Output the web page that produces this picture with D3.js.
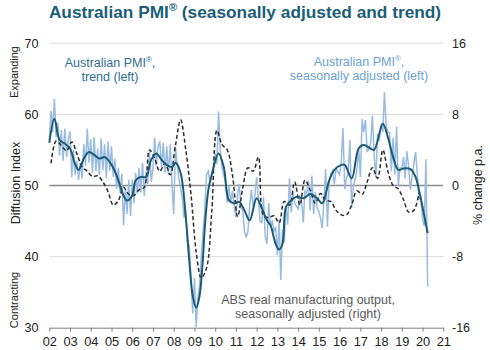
<!DOCTYPE html>
<html>
<head>
<meta charset="utf-8">
<script src="https://cdn.jsdelivr.net/npm/d3@7"></script>
<style>
  body { margin: 0; background: #fff; }
  svg { font-family: "Liberation Sans", Arial, sans-serif; }
</style>
</head>
<body>
<div id="chart"></div>
<script>
// Australian PMI, seasonally adjusted (monthly, from Jan 2002)
const saStart = "2002-01";
const saValues = [
  56.5, 60.5, 57.5, 62.2, 56.8, 58.8, 54.2, 57.8, 53.5, 58.0, 54.0, 56.5,
  57.6, 51.2, 55.0, 51.5, 53.5, 50.8, 53.2, 51.0, 55.8, 52.8, 58.0, 53.2,
  56.5, 51.8, 56.8, 52.0, 55.2, 51.5, 56.6, 52.2, 55.8, 51.0, 56.2, 52.0,
  55.5, 51.2, 53.8, 49.5, 52.5, 49.0, 51.6, 44.4, 49.5, 46.0, 50.8, 45.7,
  50.8, 47.5, 51.8, 48.8, 52.5, 49.0, 53.2, 48.5, 52.0, 50.2, 54.8, 50.5,
  52.5, 56.7, 52.8, 55.5, 56.2, 52.6, 56.0, 51.8, 55.5, 51.5, 55.8, 50.5,
  46.0, 55.5, 53.0, 51.0, 49.8, 48.2, 45.5, 46.5, 42.0, 41.5, 37.0, 32.0,
  37.0, 30.1, 34.3, 35.9, 40.0, 43.5, 46.5, 51.5, 52.0, 50.5, 51.5, 52.8,
  54.5, 53.0, 60.4, 55.0, 52.5, 51.5, 50.5, 47.5, 50.0, 47.5, 49.2, 47.0,
  45.5, 48.8, 50.2, 46.8, 46.5, 43.5, 42.8, 43.5, 47.2, 49.4, 47.0, 48.5,
  51.2, 48.2, 45.0, 44.8, 48.3, 42.8, 41.8, 47.5, 44.2, 45.1, 43.5, 44.2,
  40.2, 45.2, 36.7, 43.8, 42.0, 47.1, 44.5, 51.0, 46.2, 49.0, 47.5, 47.1,
  46.7, 48.6, 47.9, 44.8, 49.2, 48.9, 50.7, 46.5, 51.4, 46.0, 49.1, 46.9,
  46.3, 45.4, 44.0, 48.0, 52.3, 44.2, 50.4, 51.7, 52.1, 50.2, 52.5, 51.9,
  51.5, 53.5, 58.1, 49.5, 51.0, 51.8, 56.4, 46.9, 49.8, 50.9, 52.2, 55.4,
  51.2, 59.3, 57.5, 59.2, 54.8, 55.0, 56.0, 59.8, 54.2, 51.1, 57.3, 56.2,
  58.7, 57.5, 63.1, 58.3, 57.5, 57.4, 52.0, 56.7, 51.5, 58.3, 50.0, 52.5,
  52.5, 54.0, 51.0, 54.8, 52.7, 49.4, 51.3, 53.1, 54.7, 51.6, 48.1, 48.3,
  45.4, 44.3, 53.7, 35.8
];

// Australian PMI, trend (read at turning points)
const trendMonths = [
  "2002-01", "2002-04", "2002-07", "2002-10", "2003-01", "2003-04", "2003-06", "2003-09", "2003-12",
  "2004-03", "2004-06", "2004-09", "2004-12", "2005-03", "2005-05", "2005-08", "2005-10",
  "2006-01", "2006-03", "2006-06", "2006-09", "2006-12", "2007-03", "2007-06", "2007-09", "2007-12",
  "2008-02", "2008-05", "2008-08", "2008-10", "2008-12", "2009-02", "2009-04", "2009-06",
  "2009-07", "2009-09", "2009-11", "2010-03", "2010-06", "2010-09", "2010-12", "2011-03",
  "2011-06", "2011-09", "2012-01", "2012-04", "2012-07", "2012-09", "2012-12", "2013-02", "2013-04",
  "2013-06", "2013-09", "2013-12", "2014-04", "2014-08", "2014-12", "2015-03", "2015-07",
  "2015-10", "2016-02", "2016-04", "2016-08", "2016-12", "2017-03", "2017-07", "2017-09",
  "2018-02", "2018-05", "2018-08", "2018-11", "2019-02", "2019-06", "2019-09", "2019-11", "2020-04"
];
const trendValues = [
  56.0, 59.4, 56.4, 55.9, 55.2, 53.0, 52.2, 53.8, 54.7,
  54.3, 53.8, 54.0, 53.3, 52.0, 50.7, 48.6, 47.9,
  48.6, 50.7, 51.2, 51.2, 53.6, 54.5, 53.6, 52.9, 52.6,
  53.2, 51.8, 45.5, 39.5, 34.5, 32.8, 34.5, 40.0,
  44.0, 49.3, 51.5, 54.5, 52.6, 47.9, 47.5, 47.7,
  46.5, 45.1, 48.2, 46.8, 45.1, 44.4, 41.8, 41.0, 41.8,
  47.0, 47.9, 48.4, 48.2, 48.8, 48.2, 47.5, 50.7,
  52.2, 52.9, 52.9, 51.0, 55.2, 55.7, 55.2, 55.0,
  58.7, 56.8, 54.0, 52.2, 52.4, 52.3, 51.2, 49.3, 43.3
];

// ABS real manufacturing output, % change p.a. (quarterly, mid-quarter from Q1 2002)
const absStart = "2002-02";
const absValues = [
  2.5, 5.0, 4.5, 3.9, 4.9, 3.6, 2.1, 1.6, 1.0, 1.1,
  0.4, -0.7, -2.2, -1.7, -0.2, -1.0, -1.1, -0.5, -0.2, 4.0,
  3.0, 1.6, 2.5, 1.2, 4.5, 7.4, 4.0, -1.0, -7.5, -10.4,
  -9.3, -3.0, 6.2, 4.6, 4.0, 1.2, -3.5, -0.3, 2.0, 1.6,
  3.2, -3.4, -3.6, -3.4, -4.2, -1.8, -2.2, 0.4, -2.2, 0.6,
  -0.5, -2.0, -0.9, -1.7, -1.8, -2.8, -3.3, -3.3, -2.2, -0.6,
  -1.0, 0.4, 2.0, 0.8, 4.0, 1.6, 0.0, -0.4, -1.6, -3.0,
  -2.8, -0.8
];

const leftTicks = [30, 40, 50, 60, 70];
const rightTicks = [-16, -8, 0, 8, 16];

const width = 490, height = 350;
const parseMonth = d3.timeParse("%Y-%m");

const x = d3.scaleTime()
  .domain([new Date(2002, 0, 1), new Date(2021, 0, 1)])
  .range([49.3, 443.3]);
const yL = d3.scaleLinear().domain([30, 70]).range([327.7, 43.3]);
const yR = d3.scaleLinear().domain([-16, 16]).range([327.7, 43.3]);

const sa = saValues.map((v, i) => ({ date: d3.timeMonth.offset(parseMonth(saStart), i), value: v }));
const trend = trendMonths.map((m, i) => ({ date: parseMonth(m), value: trendValues[i] }));
const abs = absValues.map((v, i) => ({ date: d3.timeMonth.offset(parseMonth(absStart), i * 3), value: v }));

const svg = d3.select("#chart")
  .append("svg")
  .attr("width", width)
  .attr("height", height);

// title
const title = svg.append("text")
  .attr("x", 245)
  .attr("y", 18)
  .attr("text-anchor", "middle")
  .attr("fill", "#1b5e77")
  .attr("font-size", "17.3px")
  .attr("font-weight", "bold");
title.append("tspan").text("Australian PMI");
title.append("tspan").attr("font-size", "11px").attr("dy", "-7").text("®");
title.append("tspan").attr("dy", "7").text(" (seasonally adjusted and trend)");

// grid
svg.append("g")
  .selectAll("line")
  .data(leftTicks.filter(d => d !== 30))
  .join("line")
  .attr("x1", x.range()[0])
  .attr("x2", x.range()[1])
  .attr("y1", d => yL(d))
  .attr("y2", d => yL(d))
  .attr("stroke", d => d === 50 ? "#8c8c8c" : "#dcdcdc")
  .attr("stroke-width", d => d === 50 ? 1.3 : 1);

// x axis
const xAxis = svg.append("g")
  .attr("transform", `translate(0,${yL(30)})`)
  .call(d3.axisBottom(x)
    .ticks(d3.timeYear.every(1))
    .tickFormat(d3.timeFormat("%y"))
    .tickSize(4)
    .tickPadding(5)
    .tickSizeOuter(0));
xAxis.select(".domain").attr("stroke", "#7f7f7f");
xAxis.selectAll(".tick line").attr("stroke", "#7f7f7f");
xAxis.selectAll("text").attr("font-size", "12.8px").attr("fill", "#222").attr("font-family", null);

// left axis labels
svg.append("g")
  .selectAll("text")
  .data(leftTicks)
  .join("text")
  .attr("x", 38.5)
  .attr("y", d => yL(d))
  .attr("dy", "0.35em")
  .attr("text-anchor", "end")
  .attr("font-size", "12.5px")
  .attr("fill", "#222")
  .text(d => d);

// right axis labels
svg.append("g")
  .selectAll("text")
  .data(rightTicks)
  .join("text")
  .attr("x", 452)
  .attr("y", d => yR(d))
  .attr("dy", "0.35em")
  .attr("font-size", "12.5px")
  .attr("fill", "#222")
  .text(d => d);

// axis titles
function vtext(tx, ty, txt, size) {
  svg.append("text")
    .attr("transform", `translate(${tx},${ty}) rotate(-90)`)
    .attr("text-anchor", "middle")
    .attr("font-size", size)
    .attr("fill", "#222")
    .text(txt);
}
vtext(20, 183, "Diffusion Index", "12.5px");
vtext(18, 72, "Expanding", "11px");
vtext(18, 300, "Contracting", "11px");
vtext(482, 185, "% change p.a.", "12.5px");

// series
const lineL = d3.line().x(d => x(d.date)).y(d => yL(d.value));

svg.append("path")
  .datum(sa)
  .attr("fill", "none")
  .attr("stroke", "#99bbe2")
  .attr("stroke-width", 1.5)
  .attr("d", lineL);

svg.append("path")
  .datum(abs)
  .attr("fill", "none")
  .attr("stroke", "#2b2b2b")
  .attr("stroke-width", 1.5)
  .attr("stroke-dasharray", "4,2.5")
  .attr("d", d3.line().x(d => x(d.date)).y(d => yR(d.value)).curve(d3.curveCatmullRom.alpha(0.5)));

svg.append("path")
  .datum(trend)
  .attr("fill", "none")
  .attr("stroke", "#1d5b73")
  .attr("stroke-width", 2)
  .attr("d", lineL.curve(d3.curveCatmullRom.alpha(0.5)));

// annotations
function note(cx, cy, lines, color) {
  const t = svg.append("text")
    .attr("text-anchor", "middle")
    .attr("font-size", "12.5px")
    .attr("fill", color);
  lines.forEach((l, i) => {
    const ts = t.append("tspan").attr("x", cx).attr("y", cy + i * 14);
    if (l.includes("®")) {
      const parts = l.split("®");
      ts.append("tspan").text(parts[0]);
      ts.append("tspan").attr("font-size", "8px").attr("dy", "-5").text("®");
      ts.append("tspan").attr("dy", "5").text(parts[1]);
    } else {
      ts.text(l);
    }
  });
}
note(110, 67, ["Australian PMI®,", "trend (left)"], "#2e6f91");
note(359, 66, ["Australian PMI®,", "seasonally adjusted (left)"], "#6b9fd6");
note(308, 304, ["ABS real manufacturing output,", "seasonally adjusted (right)"], "#595959");
</script>
</body>
</html>
